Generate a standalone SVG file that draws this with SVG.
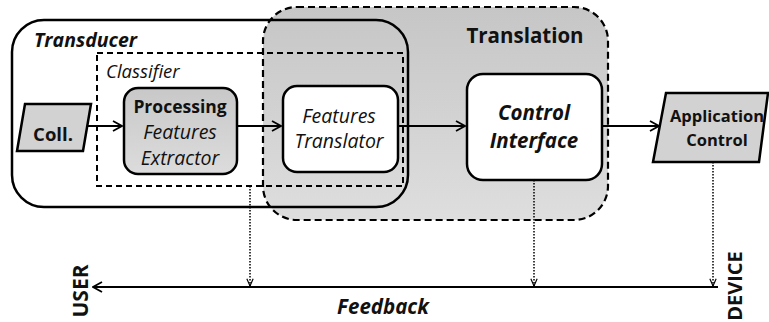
<svg xmlns="http://www.w3.org/2000/svg" width="769" height="322" viewBox="0 0 769 322">
<defs>
<linearGradient id="gTrans" x1="0" y1="0" x2="0" y2="1"><stop offset="0" stop-color="#c6c6c6"/><stop offset="1" stop-color="#dedede"/></linearGradient>
<linearGradient id="gProc" x1="0" y1="0" x2="0" y2="1"><stop offset="0" stop-color="#c8c8c8"/><stop offset="1" stop-color="#dcdcdc"/></linearGradient>
<marker id="arr" viewBox="0 0 12 12" refX="11" refY="6" markerWidth="12" markerHeight="12" markerUnits="userSpaceOnUse" orient="auto"><path d="M2,1 L11,6 L2,11" fill="none" stroke="#000" stroke-width="1.8"/></marker>
<marker id="arrS" viewBox="0 0 10 10" refX="9" refY="5" markerWidth="9" markerHeight="9" markerUnits="userSpaceOnUse" orient="auto"><path d="M1,1.5 L9,5 L1,8.5" fill="none" stroke="#000" stroke-width="1.3"/></marker>
</defs>
<style>
text{font-family:"Open Sans","Liberation Sans",sans-serif;fill:#111}
.b{font-weight:bold}.i{font-style:italic}
.box{stroke:#000;stroke-width:2.5}
.dash{fill:none;stroke:#000;stroke-width:2;stroke-dasharray:6,4}
.con{stroke:#000;stroke-width:2;fill:none}
.dot{stroke:#000;stroke-width:1.5;stroke-dasharray:1.5,1.5;fill:none}
</style>
<rect x="0" y="0" width="769" height="322" fill="#fff"/>
<g id="transducer-bg"><rect x="12" y="20" width="396" height="187" rx="32" fill="#fff"/></g>
<g id="translation"><rect x="263" y="7" width="345" height="213" rx="34" fill="url(#gTrans)" stroke="#000" stroke-width="2.2" stroke-dasharray="7,4"/>
<text x="525" y="43" class="b" font-size="20.5" text-anchor="middle">Translation</text></g>
<g id="transducer"><rect x="12" y="20" width="396" height="187" rx="32" fill="none" class="box"/>
<text x="34" y="47" class="b i" font-size="19.5">Transducer</text></g>
<g id="classifier"><rect x="97" y="53" width="306" height="133" class="dash"/>
<text x="106" y="78" class="i" font-size="18.5">Classifier</text></g>
<g id="coll"><polygon points="25,104 91,104 83,151 17,151" fill="#d2d2d2" class="box"/>
<text x="53" y="141" class="b" font-size="18.5" text-anchor="middle">Coll.</text></g>
<g id="processing"><rect x="124" y="88" width="113" height="86" rx="14" fill="url(#gProc)" class="box"/>
<text x="180" y="113" class="b" font-size="17.5" text-anchor="middle">Processing</text>
<text x="180" y="139" class="i" font-size="19.5" text-anchor="middle">Features</text>
<text x="180" y="165" class="i" font-size="19.5" text-anchor="middle">Extractor</text></g>
<g id="features-translator"><rect x="283" y="86" width="115" height="86" rx="14" fill="#fff" class="box"/>
<text x="339" y="123" class="i" font-size="19.5" text-anchor="middle">Features</text>
<text x="339" y="148" class="i" font-size="19.5" text-anchor="middle">Translator</text></g>
<g id="control-interface"><rect x="467" y="74" width="135" height="106" rx="16" fill="#fff" class="box"/>
<text x="534" y="120" class="b i" font-size="20.5" text-anchor="middle">Control</text>
<text x="534" y="148" class="b i" font-size="20.5" text-anchor="middle">Interface</text></g>
<g id="application-control"><polygon points="666,93 768,93 759,162 653,162" fill="#d2d2d2" class="box"/>
<text x="717" y="122" class="b" font-size="16.5" text-anchor="middle">Application</text>
<text x="717" y="146" class="b" font-size="16.5" text-anchor="middle">Control</text></g>
<g id="connectors">
<line x1="87" y1="126" x2="122" y2="126" class="con" marker-end="url(#arr)"/>
<line x1="237" y1="126" x2="281" y2="126" class="con" marker-end="url(#arr)"/>
<line x1="398" y1="126" x2="465" y2="126" class="con" marker-end="url(#arr)"/>
<line x1="602" y1="126" x2="659" y2="126" class="con" marker-end="url(#arr)"/>
<line x1="718" y1="287" x2="93" y2="287" class="con" marker-end="url(#arr)"/>
<line x1="250" y1="186" x2="250" y2="286" class="dot" marker-end="url(#arrS)"/>
<line x1="534" y1="180" x2="534" y2="286" class="dot" marker-end="url(#arrS)"/>
<line x1="713" y1="162" x2="713" y2="286" class="dot" marker-end="url(#arrS)"/>
</g>
<g id="labels">
<text transform="translate(88,291) rotate(-90)" class="b" font-size="21" text-anchor="middle">USER</text>
<text transform="translate(742,286) rotate(-90)" class="b" font-size="20" text-anchor="middle">DEVICE</text>
<text x="383" y="314" class="b i" font-size="20.5" text-anchor="middle">Feedback</text>
</g>
</svg>
